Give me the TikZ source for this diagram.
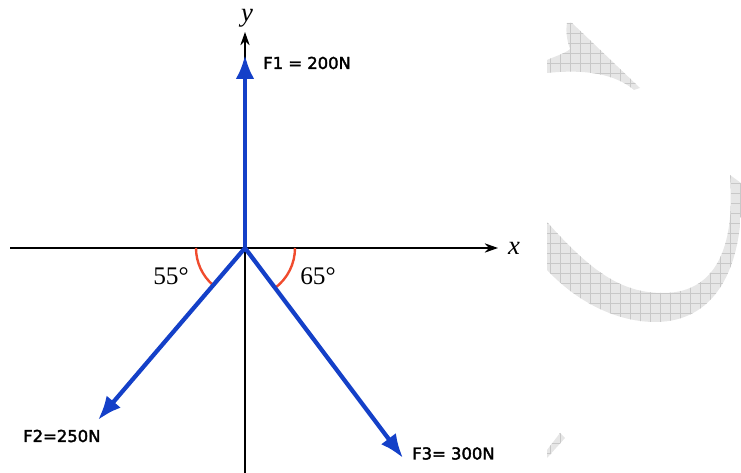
\documentclass[tikz,border=0pt]{standalone}
\usepackage{fontspec}
\setmainfont{Liberation Serif}
\newfontfamily\lblfont[FakeBold=2.2]{DejaVu Sans}
\usepackage{tikz}
\usetikzlibrary{arrows.meta}
\definecolor{forceblue}{RGB}{20,64,200}
\definecolor{arcred}{RGB}{240,75,45}
\definecolor{markfill}{RGB}{230,230,230}
\definecolor{markline}{RGB}{200,200,200}

\begin{document}
\begin{tikzpicture}[x=0.75pt, y=0.75pt,
        axis/.style={line width=1.1pt, -{Stealth[length=10pt, width=7pt]}},
        force/.style={forceblue, line width=3.2pt, -{Latex[length=18pt, width=14pt]}},
        anglearc/.style={arcred, line width=1.8pt},
        forcelabel/.style={anchor=west, inner sep=0pt, font=\lblfont\fontsize{12.3}{14}\selectfont},
        anglelabel/.style={inner sep=0pt, font=\fontsize{19}{22}\selectfont},
        axislabel/.style={inner sep=0pt, font=\itshape\fontsize{20}{24}\selectfont}]
        \useasboundingbox (0, 0) rectangle (741, 473);

        % watermark remains on the right
        \begin{scope}
            \clip (547, 413) .. controls (556, 417) and (566, 420) .. (570, 424)
                .. controls (566, 435) and (566, 444) .. (567, 450) -- (572, 450)
                -- (640, 385) -- (634, 383) .. controls (620, 395) and (595, 405) .. (547, 400) -- cycle
                (547, 251) .. controls (590, 203) and (620, 180) .. (663, 180)
                .. controls (720, 180) and (735, 233) .. (730, 298) -- (741, 290)
                .. controls (745, 213) and (720, 151) .. (655, 151)
                .. controls (620, 151) and (580, 168) .. (547, 203) -- cycle
                (547, 23) -- (560, 40) -- (565, 35) -- (547, 15) -- cycle;
            \fill [markfill] (540, 0) rectangle (741, 473);
            \draw [markline, line width=0.4pt, step=10] (540, 0) grid (741, 473);
        \end{scope}

        \coordinate (O) at (245, 225);
        \coordinate (ybot) at (245, 0);
        \coordinate (ytip) at (245, 441);
        \coordinate (xleft) at (10, 225);
        \coordinate (xtip) at (498, 225);
        \coordinate (F1end) at (245, 418);
        \coordinate (F2end) at (98, 53);
        \coordinate (F3end) at (403, 15);

        \draw [axis] (ybot) -- (ytip); % y axis
        \draw [axis] (xleft) -- (xtip); % x axis
        \node [axislabel] (ylab) at (247, 455) {y};
        \node [axislabel] (xlab) at (514, 225) {x};

        \draw [anglearc] (O) ++(180:49) arc (180:229.5:49); % 55 degrees
        \draw [anglearc] (O) ++(0:50) arc (0:-53:50); % 65 degrees
        \node [anglelabel] (a55) at (171, 197) {55°};
        \node [anglelabel] (a65) at (318, 197) {65°};

        \draw [force] (O) -- (F1end);
        \draw [force] (O) -- (F2end);
        \draw [force] (O) -- (F3end);
        \node [forcelabel] (F1lab) at (263, 410) {F1 = 200N};
        \node [forcelabel] (F2lab) at (23, 37) {F2=250N};
        \node [forcelabel] (F3lab) at (412, 19.5) {F3= 300N};
    \end{tikzpicture}
\end{document}
